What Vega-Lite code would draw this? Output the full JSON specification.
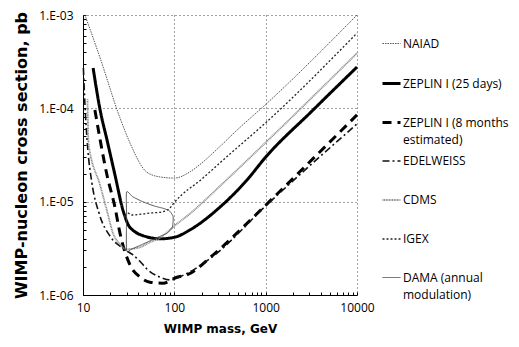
{
  "$schema": "https://vega.github.io/schema/vega-lite/v6.json",
  "width": 274,
  "height": 280,
  "padding": {"left": 83, "top": 15, "right": 162, "bottom": 52},
  "autosize": {"type": "none"},
  "background": "white",
  "config": {
    "view": {"stroke": null},
    "axis": {"labelFont": "Open Sans", "labelFontSize": 12, "labelColor": "#000", "titleFont": "DejaVu Sans", "titleFontWeight": "bold", "titleColor": "#000", "domainColor": "#000", "tickColor": "#000", "gridColor": "#444", "gridDash": [1, 3], "gridWidth": 1}
  },
  "data": {"values": [
    {"s": "NAIAD", "m": 10.5, "v": 1e-3},
    {"s": "NAIAD", "m": 15.4, "v": 3.46e-4},
    {"s": "NAIAD", "m": 25.4, "v": 7.9e-5},
    {"s": "NAIAD", "m": 32.7, "v": 4.25e-5},
    {"s": "NAIAD", "m": 50, "v": 2.07e-5},
    {"s": "NAIAD", "m": 70, "v": 1.84e-5},
    {"s": "NAIAD", "m": 100, "v": 1.79e-5},
    {"s": "NAIAD", "m": 150, "v": 2.1e-5},
    {"s": "NAIAD", "m": 200, "v": 2.6e-5},
    {"s": "NAIAD", "m": 316, "v": 3.9e-5},
    {"s": "NAIAD", "m": 500, "v": 6e-5},
    {"s": "NAIAD", "m": 1000, "v": 1.1e-4},
    {"s": "NAIAD", "m": 10000, "v": 1e-3},
    {"s": "ZEPLIN I (25 days)", "m": 12.9, "v": 2.7e-4},
    {"s": "ZEPLIN I (25 days)", "m": 15.4, "v": 9.6e-5},
    {"s": "ZEPLIN I (25 days)", "m": 18.3, "v": 4.6e-5},
    {"s": "ZEPLIN I (25 days)", "m": 22.4, "v": 1.93e-5},
    {"s": "ZEPLIN I (25 days)", "m": 27.4, "v": 8.1e-6},
    {"s": "ZEPLIN I (25 days)", "m": 32.7, "v": 5.3e-6},
    {"s": "ZEPLIN I (25 days)", "m": 50, "v": 4.2e-6},
    {"s": "ZEPLIN I (25 days)", "m": 70, "v": 4.0e-6},
    {"s": "ZEPLIN I (25 days)", "m": 100, "v": 4.15e-6},
    {"s": "ZEPLIN I (25 days)", "m": 149, "v": 5.0e-6},
    {"s": "ZEPLIN I (25 days)", "m": 316, "v": 8.75e-6},
    {"s": "ZEPLIN I (25 days)", "m": 625, "v": 1.71e-5},
    {"s": "ZEPLIN I (25 days)", "m": 1000, "v": 3.0e-5},
    {"s": "ZEPLIN I (25 days)", "m": 3160, "v": 9.2e-5},
    {"s": "ZEPLIN I (25 days)", "m": 10000, "v": 2.77e-4},
    {"s": "ZEPLIN I (8 months estimated)", "m": 13.5, "v": 9.6e-5},
    {"s": "ZEPLIN I (8 months estimated)", "m": 15.4, "v": 4.6e-5},
    {"s": "ZEPLIN I (8 months estimated)", "m": 18.3, "v": 1.93e-5},
    {"s": "ZEPLIN I (8 months estimated)", "m": 22.4, "v": 8.7e-6},
    {"s": "ZEPLIN I (8 months estimated)", "m": 25.4, "v": 4.6e-6},
    {"s": "ZEPLIN I (8 months estimated)", "m": 32.7, "v": 2.1e-6},
    {"s": "ZEPLIN I (8 months estimated)", "m": 42, "v": 1.56e-6},
    {"s": "ZEPLIN I (8 months estimated)", "m": 54, "v": 1.37e-6},
    {"s": "ZEPLIN I (8 months estimated)", "m": 75, "v": 1.34e-6},
    {"s": "ZEPLIN I (8 months estimated)", "m": 107, "v": 1.55e-6},
    {"s": "ZEPLIN I (8 months estimated)", "m": 137, "v": 1.64e-6},
    {"s": "ZEPLIN I (8 months estimated)", "m": 265, "v": 2.68e-6},
    {"s": "ZEPLIN I (8 months estimated)", "m": 551, "v": 5.2e-6},
    {"s": "ZEPLIN I (8 months estimated)", "m": 1062, "v": 9.7e-6},
    {"s": "ZEPLIN I (8 months estimated)", "m": 10000, "v": 8.5e-5},
    {"s": "EDELWEISS", "m": 10.1, "v": 2.7e-4},
    {"s": "EDELWEISS", "m": 10.5, "v": 1.1e-4},
    {"s": "EDELWEISS", "m": 11.2, "v": 4.0e-5},
    {"s": "EDELWEISS", "m": 12.5, "v": 1.6e-5},
    {"s": "EDELWEISS", "m": 15, "v": 7.5e-6},
    {"s": "EDELWEISS", "m": 20, "v": 4.2e-6},
    {"s": "EDELWEISS", "m": 27, "v": 3.2e-6},
    {"s": "EDELWEISS", "m": 35, "v": 2.7e-6},
    {"s": "EDELWEISS", "m": 42, "v": 2.3e-6},
    {"s": "EDELWEISS", "m": 50, "v": 1.9e-6},
    {"s": "EDELWEISS", "m": 70, "v": 1.55e-6},
    {"s": "EDELWEISS", "m": 90, "v": 1.45e-6},
    {"s": "EDELWEISS", "m": 120, "v": 1.6e-6},
    {"s": "EDELWEISS", "m": 265, "v": 2.6e-6},
    {"s": "EDELWEISS", "m": 1000, "v": 9e-6},
    {"s": "EDELWEISS", "m": 10000, "v": 6.8e-5},
    {"s": "CDMS", "m": 11.2, "v": 1.25e-4},
    {"s": "CDMS", "m": 11.5, "v": 4.2e-5},
    {"s": "CDMS", "m": 15.4, "v": 1.5e-5},
    {"s": "CDMS", "m": 18.3, "v": 8e-6},
    {"s": "CDMS", "m": 21.3, "v": 4.6e-6},
    {"s": "CDMS", "m": 25.4, "v": 3.5e-6},
    {"s": "CDMS", "m": 30, "v": 3.1e-6},
    {"s": "CDMS", "m": 40, "v": 3.2e-6},
    {"s": "CDMS", "m": 55, "v": 3.7e-6},
    {"s": "CDMS", "m": 70, "v": 4.1e-6},
    {"s": "CDMS", "m": 100, "v": 5.5e-6},
    {"s": "CDMS", "m": 150, "v": 7.5e-6},
    {"s": "CDMS", "m": 300, "v": 1.4e-5},
    {"s": "CDMS", "m": 1000, "v": 4.3e-5},
    {"s": "CDMS", "m": 10000, "v": 3.9e-4},
    {"s": "IGEX", "m": 31, "v": 7.6e-6},
    {"s": "IGEX", "m": 35, "v": 7.2e-6},
    {"s": "IGEX", "m": 50, "v": 7.5e-6},
    {"s": "IGEX", "m": 75, "v": 7.8e-6},
    {"s": "IGEX", "m": 90, "v": 8.6e-6},
    {"s": "IGEX", "m": 100, "v": 9.8e-6},
    {"s": "IGEX", "m": 200, "v": 1.75e-5},
    {"s": "IGEX", "m": 400, "v": 3.2e-5},
    {"s": "IGEX", "m": 1000, "v": 7.0e-5},
    {"s": "IGEX", "m": 10000, "v": 6.4e-4},
    {"s": "DAMA (annual modulation)", "i": 0, "m": 30, "v": 1.27e-5},
    {"s": "DAMA (annual modulation)", "i": 1, "m": 35, "v": 1.13e-5},
    {"s": "DAMA (annual modulation)", "i": 2, "m": 45, "v": 1.0e-5},
    {"s": "DAMA (annual modulation)", "i": 3, "m": 60, "v": 9.0e-6},
    {"s": "DAMA (annual modulation)", "i": 4, "m": 75, "v": 8.5e-6},
    {"s": "DAMA (annual modulation)", "i": 5, "m": 88, "v": 8.0e-6},
    {"s": "DAMA (annual modulation)", "i": 6, "m": 97, "v": 6.9e-6},
    {"s": "DAMA (annual modulation)", "i": 7, "m": 95, "v": 5.3e-6},
    {"s": "DAMA (annual modulation)", "i": 8, "m": 83, "v": 4.6e-6},
    {"s": "DAMA (annual modulation)", "i": 9, "m": 64, "v": 4.1e-6},
    {"s": "DAMA (annual modulation)", "i": 10, "m": 45, "v": 3.5e-6},
    {"s": "DAMA (annual modulation)", "i": 11, "m": 34, "v": 3.1e-6},
    {"s": "DAMA (annual modulation)", "i": 12, "m": 30, "v": 3.0e-6},
    {"s": "DAMA (annual modulation)", "i": 13, "m": 30, "v": 7e-6}
  ]},
  "encoding": {
    "x": {"field": "m", "type": "quantitative", "title": "WIMP mass, GeV",
      "scale": {"type": "log", "domain": [10, 10000]},
      "axis": {"values": [10,20,30,40,50,60,70,80,90,100,200,300,400,500,600,700,800,900,1000,2000,3000,4000,5000,6000,7000,8000,9000,10000],
        "labelExpr": "abs(log(datum.value)/LN10 - round(log(datum.value)/LN10)) < 0.001 ? format(datum.value, 'd') : ''",
        "gridOpacity": {"condition": {"test": "abs(log(datum.value)/LN10 - round(log(datum.value)/LN10)) < 0.001", "value": 1}, "value": 0},
        "tickSize": -3, "labelPadding": 10, "titlePadding": 10, "titleFontSize": 12, "labelFlush": false}},
    "y": {"field": "v", "type": "quantitative", "title": "WIMP-nucleon cross section, pb",
      "scale": {"type": "log", "domain": [1e-6, 1e-3]},
      "axis": {"values": [1e-6,2e-6,3e-6,4e-6,5e-6,6e-6,7e-6,8e-6,9e-6,1e-5,2e-5,3e-5,4e-5,5e-5,6e-5,7e-5,8e-5,9e-5,1e-4,2e-4,3e-4,4e-4,5e-4,6e-4,7e-4,8e-4,9e-4,1e-3],
        "labelExpr": "abs(log(datum.value)/LN10 - round(log(datum.value)/LN10)) < 0.001 ? '1.E-0' + abs(round(log(datum.value)/LN10)) : ''",
        "gridOpacity": {"condition": {"test": "abs(log(datum.value)/LN10 - round(log(datum.value)/LN10)) < 0.001", "value": 1}, "value": 0},
        "tickSize": -3, "labelPadding": 13, "titlePadding": 9, "titleFontSize": 16, "labelFlush": false}},
    "color": {"field": "s", "type": "nominal", "title": null,
      "scale": {"domain": ["NAIAD", "ZEPLIN I (25 days)", "ZEPLIN I (8 months estimated)", "EDELWEISS", "CDMS", "IGEX", "DAMA (annual modulation)"],
        "range": ["#444444", "#000000", "#000000", "#111111", "#8a8a8a", "#222222", "#444444"]},
      "legend": {"orient": "none", "legendX": 298, "legendY": 19, "symbolType": "stroke", "symbolSize": 324, "labelFont": "Open Sans", "labelFontSize": 12, "labelColor": "#000", "labelOffset": 1, "rowPadding": 5, "gridAlign": "all", "labelLimit": 200,
        "labelExpr": "datum.label == 'ZEPLIN I (8 months estimated)' ? ['ZEPLIN I (8 months', 'estimated)'] : datum.label == 'DAMA (annual modulation)' ? ['DAMA (annual', 'modulation)'] : [datum.label, '']",
        "encode": {"labels": {"update": {"lineHeight": {"value": 17}}}}}},
    "strokeDash": {"field": "s", "type": "nominal", "title": null,
      "scale": {"domain": ["NAIAD", "ZEPLIN I (25 days)", "ZEPLIN I (8 months estimated)", "EDELWEISS", "CDMS", "IGEX", "DAMA (annual modulation)"],
        "range": [[1.5, 1], [1, 0], [9, 6], [7, 3, 2, 3], [1, 0.6], [2, 2], [1, 0]]}},
    "strokeWidth": {"field": "s", "type": "nominal", "title": null,
      "scale": {"type": "ordinal", "domain": ["NAIAD", "ZEPLIN I (25 days)", "ZEPLIN I (8 months estimated)", "EDELWEISS", "CDMS", "IGEX", "DAMA (annual modulation)"],
        "range": [0.9, 3, 3, 1.6, 1.8, 1.3, 0.9]}}
  },
  "layer": [
    {"transform": [{"filter": "datum.s != 'DAMA (annual modulation)'"}],
     "mark": {"type": "line", "interpolate": "monotone"}},
    {"transform": [{"filter": "datum.s == 'DAMA (annual modulation)'"}],
     "mark": {"type": "line", "interpolate": "cardinal-closed", "tension": 0.4},
     "encoding": {"order": {"field": "i", "type": "quantitative"}}}
  ]
}
